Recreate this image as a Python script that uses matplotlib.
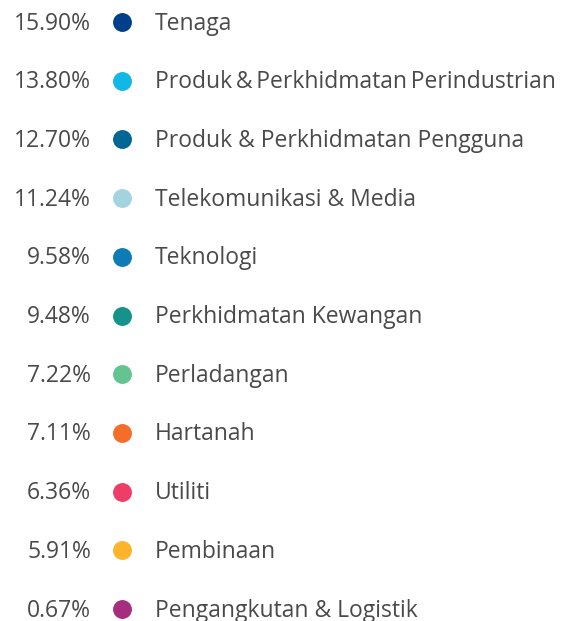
import matplotlib
matplotlib.use("Agg")
import matplotlib.pyplot as plt

percent_labels = ["15.90%", "13.80%", "12.70%", "11.24%", "9.58%", "9.48%", "7.22%", "7.11%", "6.36%", "5.91%", "0.67%"]
sectors = ["Tenaga", "Produk\u2009&\u2009Perkhidmatan\u2009Perindustrian", "Produk & Perkhidmatan Pengguna",
           "Telekomunikasi & Media", "Teknologi", "Perkhidmatan Kewangan", "Perladangan",
           "Hartanah", "Utiliti", "Pembinaan", "Pengangkutan & Logistik"]
colors = ["#003f8a", "#11b8e6", "#006694", "#a3d3df", "#0c7cb8", "#15938a", "#63c48f",
          "#f46e2a", "#ee3d67", "#fdb42b", "#a52f7e"]

W, H = 563, 621
fig = plt.figure(figsize=(W / 100, H / 100), dpi=100)
ax = fig.add_axes([0, 0, 1, 1])
ax.set_xlim(0, W)
step = 58.7
ax.set_ylim(10 + (H - 609) / step, -22 / step)
ax.axis("off")

txt_color = "#4a4a4a"
fs = 16.5
fam = "Open Sans"
dy = 1.5 / step
for i, (p, s, c) in enumerate(zip(percent_labels, sectors, colors)):
    ax.text(91, i + dy, p, ha="right", va="center", fontsize=fs, color=txt_color, family=fam)
    ax.scatter([122], [i], s=185, color=c, linewidths=0)
    ax.text(155, i + dy, s, ha="left", va="center", fontsize=fs, color=txt_color,
            family=[fam, "DejaVu Sans"])

fig.savefig("out.png", dpi=100)
